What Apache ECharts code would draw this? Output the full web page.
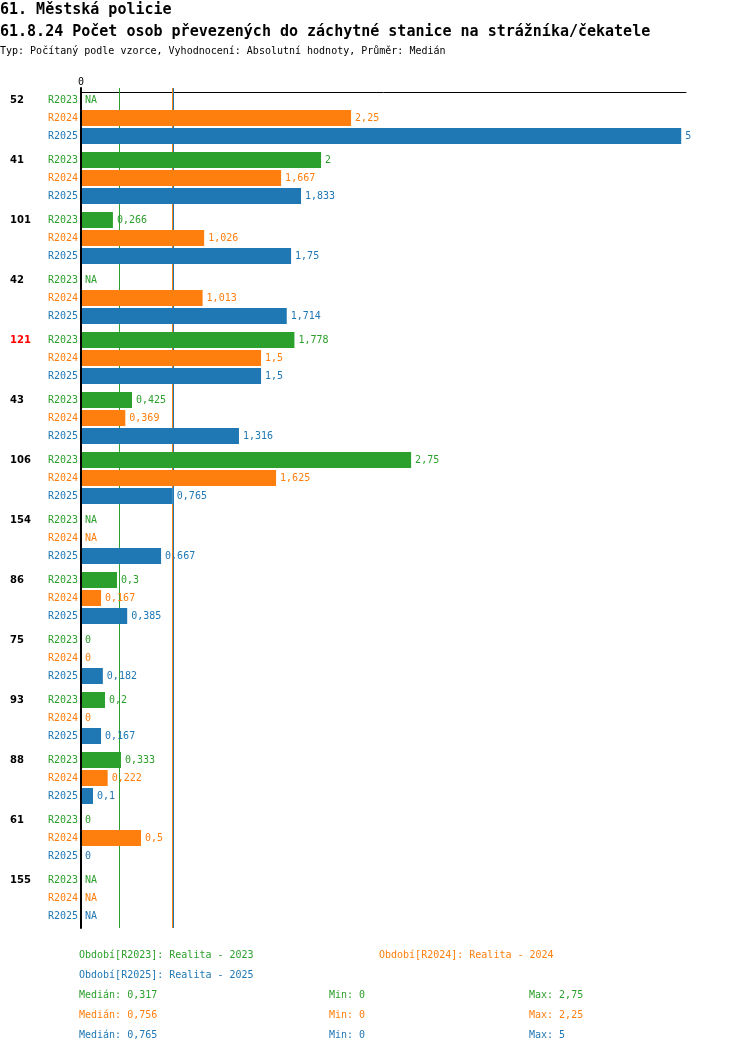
<!DOCTYPE html>
<html><head><meta charset="utf-8">
<script src="https://cdn.jsdelivr.net/npm/echarts@6/dist/echarts.min.js"></script>
<style>html,body{margin:0;padding:0;background:#fff}#c{width:750px;height:1052px}</style>
</head><body><div id="c"></div>
<script>
const groups = ['52','41','101','42','121','43','106','154','86','75','93','88','61','155'];
const highlightGroup = '121';
const periods = ['R2023','R2024','R2025'];
const colors = ['#2ca02c','#ff7f0e','#1f77b4'];
const r2023 = [null, 2, 0.266, null, 1.778, 0.425, 2.75, null, 0.3, 0, 0.2, 0.333, 0, null];
const r2024 = [2.25, 1.667, 1.026, 1.013, 1.5, 0.369, 1.625, null, 0.167, 0, 0, 0.222, 0.5, null];
const r2025 = [5, 1.833, 1.75, 1.714, 1.5, 1.316, 0.765, 0.667, 0.385, 0.182, 0.167, 0.1, 0, null];
const medians = [0.317, 0.756, 0.765];
const mins = [0, 0, 0];
const maxs = [2.75, 2.25, 5];
const legendTexts = ['Období[R2023]: Realita - 2023','Období[R2024]: Realita - 2024','Období[R2025]: Realita - 2025'];
const title1 = '61. Městská policie';
const title2 = '61.8.24 Počet osob převezených do záchytné stanice na strážníka/čekatele';
const title3 = 'Typ: Počítaný podle vzorce, Vyhodnocení: Absolutní hodnoty, Průměr: Medián';

const values = [r2023, r2024, r2025];
const mono = 'DejaVu Sans Mono';
const fmt = v => String(v).replace('.', ',');
const BAR_W = 16, ROW_STEP = 18;

const series = [];
// median lines, drawn only where no bar covers them (they sit behind the bars)
series.push({
  type: 'custom', z: 1, silent: true,
  data: medians.map((m, i) => [m, i]),
  encode: {x: 0, y: 1},
  renderItem: (params, api) => {
    const lineX = Math.round(api.coord([api.value(0), 0])[0]) + 0.5;
    const cs = params.coordSys;
    const covered = [];
    groups.forEach((g, gi) => {
      const yc = api.coord([0, gi])[1];
      values.forEach((arr, k) => {
        const v = arr[gi];
        if (v === null) return;
        const xe = api.coord([v, gi])[0];
        if (xe >= lineX) {
          const cy = yc + (k - 1) * ROW_STEP;
          covered.push([cy - BAR_W / 2, cy + BAR_W / 2]);
        }
      });
    });
    covered.sort((a, b) => a[0] - b[0]);
    const children = [];
    let y = cs.y;
    covered.forEach(c => {
      if (c[0] > y) children.push({type: 'line', shape: {x1: lineX, y1: y, x2: lineX, y2: c[0]},
        style: {stroke: colors[params.dataIndex], lineWidth: 1}});
      y = Math.max(y, c[1]);
    });
    if (y < cs.y + cs.height) children.push({type: 'line', shape: {x1: lineX, y1: y, x2: lineX, y2: cs.y + cs.height},
      style: {stroke: colors[params.dataIndex], lineWidth: 1}});
    return {type: 'group', children: children};
  }
});
periods.forEach((p, i) => {
  series.push({
    type: 'bar', stack: 's' + i, barWidth: BAR_W, z: 3, silent: true,
    data: groups.map(() => 0),
    itemStyle: {color: colors[i]},
    label: {show: true, position: 'left', distance: 3, formatter: p, color: colors[i], fontFamily: mono, fontSize: 10}
  });
  series.push({
    type: 'bar', stack: 's' + i, barWidth: BAR_W, barGap: '12.5%', z: 3, silent: true,
    data: values[i].map(v => v === null ? {value: 0, na: true} : {value: v}),
    itemStyle: {color: colors[i]},
    label: {show: true, position: 'right', distance: 4, color: colors[i], fontFamily: mono, fontSize: 10,
      formatter: prm => prm.data.na ? 'NA' : fmt(prm.data.value)}
  });
});

const graphic = [];
const txt = (x, y, s, color, size, weight) => graphic.push({type: 'text', left: x, top: y,
  style: {text: s, fill: color, font: (weight || 'normal') + ' ' + size + 'px "' + mono + '"'}});
txt(0, 3, title1, '#000', 15, 'bold');
txt(0, 25, title2, '#000', 15, 'bold');
txt(0, 46, title3, '#000', 10);
txt(79, 950, legendTexts[0], colors[0], 10);
txt(379, 950, legendTexts[1], colors[1], 10);
txt(79, 970, legendTexts[2], colors[2], 10);
periods.forEach((p, i) => {
  const y = 990 + i * 20;
  txt(79, y, 'Medián: ' + fmt(medians[i]), colors[i], 10);
  txt(329, y, 'Min: ' + fmt(mins[i]), colors[i], 10);
  txt(529, y, 'Max: ' + fmt(maxs[i]), colors[i], 10);
});

const chart = echarts.init(document.getElementById('c'));
chart.setOption({
  animation: false,
  backgroundColor: '#fff',
  grid: {left: 81, right: 64, top: 88, height: 840, containLabel: false},
  xAxis: {type: 'value', position: 'top', min: 0, max: 5.04, offset: -4,
    axisLine: {show: true, lineStyle: {color: '#000', width: 1}},
    axisTick: {show: false}, splitLine: {show: false},
    axisLabel: {formatter: v => v === 0 ? '0' : '', color: '#000', fontFamily: mono, fontSize: 10, margin: 5}},
  yAxis: {type: 'category', inverse: true, data: groups, z: 5,
    axisLine: {show: true, lineStyle: {color: '#000', width: 2}},
    axisTick: {show: false},
    axisLabel: {align: 'left', margin: 71, lineHeight: 18, fontFamily: 'DejaVu Sans', fontWeight: 'bold', fontSize: 10, color: '#000',
      formatter: v => (v === highlightGroup ? '{r|' + v + '}' : '{b|' + v + '}') + '\n\n',
      rich: {b: {color: '#000', fontWeight: 'bold', fontSize: 10, fontFamily: 'DejaVu Sans', lineHeight: 18},
             r: {color: '#ff0000', fontWeight: 'bold', fontSize: 10, fontFamily: 'DejaVu Sans', lineHeight: 18}}}},
  series: series,
  graphic: graphic
});
</script></body></html>
